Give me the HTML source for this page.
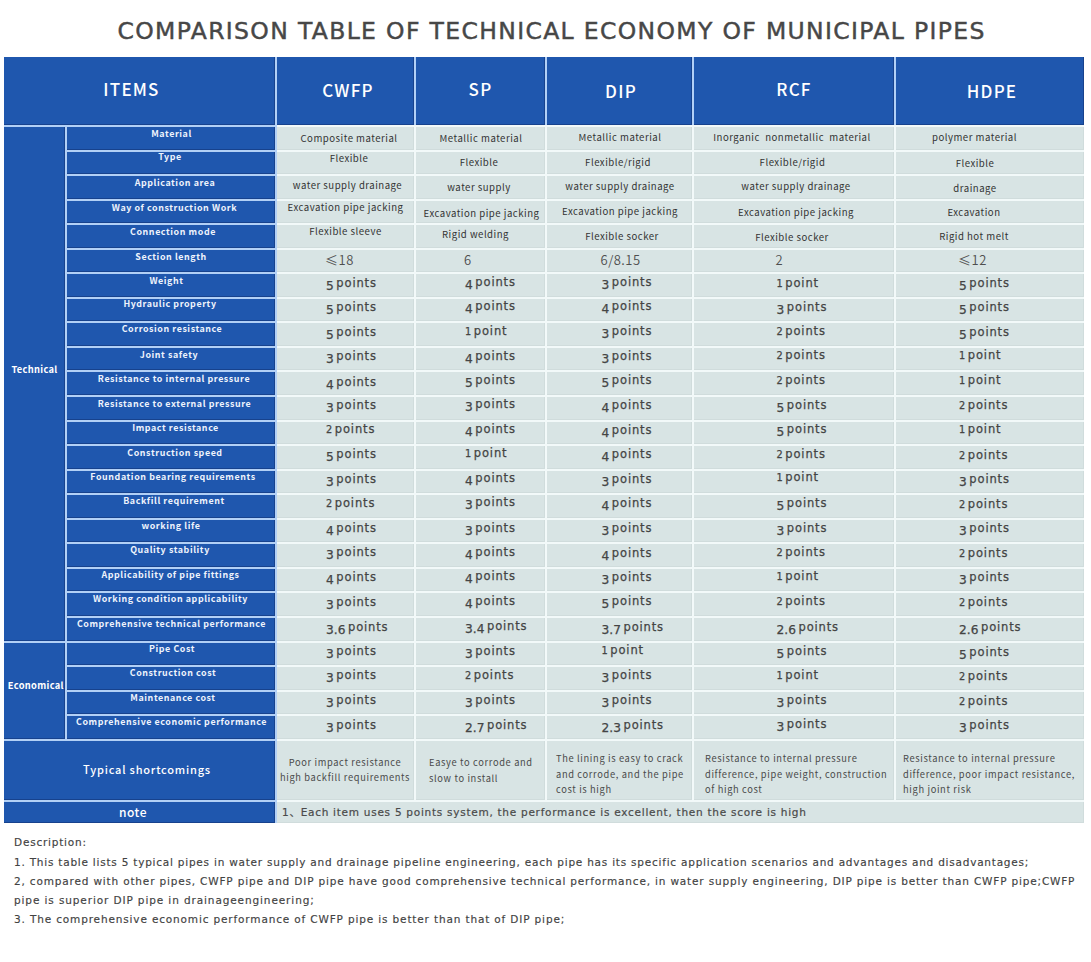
<!DOCTYPE html>
<html><head><meta charset="utf-8"><title>Comparison table of technical economy of municipal pipes</title>
<style>
html,body{margin:0;padding:0;background:#fff;}
body{width:1091px;height:962px;position:relative;overflow:hidden;}
.b{position:absolute;}
.bl{background:#1f57ae;box-shadow:inset -1px -1px 0 rgba(8,30,80,0.35);}
.gr{background:#d8e4e4;box-shadow:inset -1px -1px 0 rgba(0,20,20,0.035);}
.t{position:absolute;white-space:pre;font-family:'Noto Sans CJK SC','Liberation Sans',sans-serif;}
.title{font-family:'DejaVu Sans','Liberation Sans',sans-serif;font-size:23.5px;font-weight:400;color:#474747;letter-spacing:1.34px;line-height:30px;-webkit-text-stroke:0.45px #474747;}
.hd{font-size:17px;font-weight:500;color:#fff;letter-spacing:1.2px;text-align:center;line-height:22px;}
.grp{font-size:9.3px;font-weight:700;color:#fff;letter-spacing:0.32px;text-align:center;line-height:15px;}
.lab{font-size:8.9px;font-weight:700;color:#eef3fc;letter-spacing:0.58px;text-align:center;line-height:14px;}
.dat{font-size:9.6px;font-weight:400;color:#333;letter-spacing:0.5px;text-align:center;line-height:14px;}
.pts{font-family:'DejaVu Sans','Noto Sans CJK SC',sans-serif;font-size:11.5px;color:#444;letter-spacing:0.85px;-webkit-text-stroke:0.25px #444;line-height:16px;}
.pts span{display:inline-block;letter-spacing:0;}
.dx{font-size:0.85em;}
.dd{font-size:1.06em;transform:translateY(0.25em);}
.du{font-size:1em;}
.dp{transform:translateY(0.2em);}
.c{text-align:center;}
.gap{width:2.6px;}
.sec{font-size:13px;font-weight:350;letter-spacing:0.5px;-webkit-text-stroke:0;font-family:'Noto Sans CJK SC',sans-serif;color:#4e4e4e;}
.sc{font-size:11px;font-weight:500;color:#fff;letter-spacing:0.8px;text-align:center;line-height:18px;}
.sct{font-size:9.3px;color:#4a4a4a;letter-spacing:0.65px;line-height:14px;}
.note{font-family:'DejaVu Sans','Noto Sans CJK SC',sans-serif;font-size:10.5px;color:#4a4a4a;letter-spacing:0.73px;line-height:18px;-webkit-text-stroke:0.2px #4a4a4a;}
.desc{font-family:'DejaVu Sans','Noto Sans CJK SC',sans-serif;font-size:10.5px;color:#424242;line-height:18px;-webkit-text-stroke:0.15px #424242;}
</style></head>
<body>
<div class="b" style="left:4px;top:57px;width:273px;height:766px;background:#b2d0f6"></div>
<div class="b" style="left:277px;top:57px;width:807px;height:70px;background:#b2d0f6"></div>
<div class="b" style="left:277px;top:125px;width:807px;height:698px;background:#f2f9f9"></div>
<div class="b bl" style="left:4px;top:57px;width:271px;height:68px"></div>
<div class="b bl" style="left:277px;top:57px;width:137px;height:68px"></div>
<div class="b bl" style="left:416px;top:57px;width:129px;height:68px"></div>
<div class="b bl" style="left:547px;top:57px;width:145px;height:68px"></div>
<div class="b bl" style="left:694px;top:57px;width:200px;height:68px"></div>
<div class="b bl" style="left:896px;top:57px;width:188px;height:68px"></div>
<div class="b bl" style="left:4px;top:127px;width:61px;height:514px"></div>
<div class="b bl" style="left:4px;top:643px;width:61px;height:96px"></div>
<div class="b bl" style="left:67px;top:127px;width:208px;height:23px"></div>
<div class="b gr" style="left:277px;top:127px;width:137px;height:23px"></div>
<div class="b gr" style="left:416px;top:127px;width:129px;height:23px"></div>
<div class="b gr" style="left:547px;top:127px;width:145px;height:23px"></div>
<div class="b gr" style="left:694px;top:127px;width:200px;height:23px"></div>
<div class="b gr" style="left:896px;top:127px;width:188px;height:23px"></div>
<div class="b bl" style="left:67px;top:152px;width:208px;height:22px"></div>
<div class="b gr" style="left:277px;top:152px;width:137px;height:22px"></div>
<div class="b gr" style="left:416px;top:152px;width:129px;height:22px"></div>
<div class="b gr" style="left:547px;top:152px;width:145px;height:22px"></div>
<div class="b gr" style="left:694px;top:152px;width:200px;height:22px"></div>
<div class="b gr" style="left:896px;top:152px;width:188px;height:22px"></div>
<div class="b bl" style="left:67px;top:176px;width:208px;height:23px"></div>
<div class="b gr" style="left:277px;top:176px;width:137px;height:23px"></div>
<div class="b gr" style="left:416px;top:176px;width:129px;height:23px"></div>
<div class="b gr" style="left:547px;top:176px;width:145px;height:23px"></div>
<div class="b gr" style="left:694px;top:176px;width:200px;height:23px"></div>
<div class="b gr" style="left:896px;top:176px;width:188px;height:23px"></div>
<div class="b bl" style="left:67px;top:201px;width:208px;height:22px"></div>
<div class="b gr" style="left:277px;top:201px;width:137px;height:22px"></div>
<div class="b gr" style="left:416px;top:201px;width:129px;height:22px"></div>
<div class="b gr" style="left:547px;top:201px;width:145px;height:22px"></div>
<div class="b gr" style="left:694px;top:201px;width:200px;height:22px"></div>
<div class="b gr" style="left:896px;top:201px;width:188px;height:22px"></div>
<div class="b bl" style="left:67px;top:225px;width:208px;height:23px"></div>
<div class="b gr" style="left:277px;top:225px;width:137px;height:23px"></div>
<div class="b gr" style="left:416px;top:225px;width:129px;height:23px"></div>
<div class="b gr" style="left:547px;top:225px;width:145px;height:23px"></div>
<div class="b gr" style="left:694px;top:225px;width:200px;height:23px"></div>
<div class="b gr" style="left:896px;top:225px;width:188px;height:23px"></div>
<div class="b bl" style="left:67px;top:250px;width:208px;height:22px"></div>
<div class="b gr" style="left:277px;top:250px;width:137px;height:22px"></div>
<div class="b gr" style="left:416px;top:250px;width:129px;height:22px"></div>
<div class="b gr" style="left:547px;top:250px;width:145px;height:22px"></div>
<div class="b gr" style="left:694px;top:250px;width:200px;height:22px"></div>
<div class="b gr" style="left:896px;top:250px;width:188px;height:22px"></div>
<div class="b bl" style="left:67px;top:274px;width:208px;height:23px"></div>
<div class="b gr" style="left:277px;top:274px;width:137px;height:23px"></div>
<div class="b gr" style="left:416px;top:274px;width:129px;height:23px"></div>
<div class="b gr" style="left:547px;top:274px;width:145px;height:23px"></div>
<div class="b gr" style="left:694px;top:274px;width:200px;height:23px"></div>
<div class="b gr" style="left:896px;top:274px;width:188px;height:23px"></div>
<div class="b bl" style="left:67px;top:299px;width:208px;height:22px"></div>
<div class="b gr" style="left:277px;top:299px;width:137px;height:22px"></div>
<div class="b gr" style="left:416px;top:299px;width:129px;height:22px"></div>
<div class="b gr" style="left:547px;top:299px;width:145px;height:22px"></div>
<div class="b gr" style="left:694px;top:299px;width:200px;height:22px"></div>
<div class="b gr" style="left:896px;top:299px;width:188px;height:22px"></div>
<div class="b bl" style="left:67px;top:323px;width:208px;height:23px"></div>
<div class="b gr" style="left:277px;top:323px;width:137px;height:23px"></div>
<div class="b gr" style="left:416px;top:323px;width:129px;height:23px"></div>
<div class="b gr" style="left:547px;top:323px;width:145px;height:23px"></div>
<div class="b gr" style="left:694px;top:323px;width:200px;height:23px"></div>
<div class="b gr" style="left:896px;top:323px;width:188px;height:23px"></div>
<div class="b bl" style="left:67px;top:348px;width:208px;height:22px"></div>
<div class="b gr" style="left:277px;top:348px;width:137px;height:22px"></div>
<div class="b gr" style="left:416px;top:348px;width:129px;height:22px"></div>
<div class="b gr" style="left:547px;top:348px;width:145px;height:22px"></div>
<div class="b gr" style="left:694px;top:348px;width:200px;height:22px"></div>
<div class="b gr" style="left:896px;top:348px;width:188px;height:22px"></div>
<div class="b bl" style="left:67px;top:372px;width:208px;height:23px"></div>
<div class="b gr" style="left:277px;top:372px;width:137px;height:23px"></div>
<div class="b gr" style="left:416px;top:372px;width:129px;height:23px"></div>
<div class="b gr" style="left:547px;top:372px;width:145px;height:23px"></div>
<div class="b gr" style="left:694px;top:372px;width:200px;height:23px"></div>
<div class="b gr" style="left:896px;top:372px;width:188px;height:23px"></div>
<div class="b bl" style="left:67px;top:397px;width:208px;height:23px"></div>
<div class="b gr" style="left:277px;top:397px;width:137px;height:23px"></div>
<div class="b gr" style="left:416px;top:397px;width:129px;height:23px"></div>
<div class="b gr" style="left:547px;top:397px;width:145px;height:23px"></div>
<div class="b gr" style="left:694px;top:397px;width:200px;height:23px"></div>
<div class="b gr" style="left:896px;top:397px;width:188px;height:23px"></div>
<div class="b bl" style="left:67px;top:422px;width:208px;height:22px"></div>
<div class="b gr" style="left:277px;top:422px;width:137px;height:22px"></div>
<div class="b gr" style="left:416px;top:422px;width:129px;height:22px"></div>
<div class="b gr" style="left:547px;top:422px;width:145px;height:22px"></div>
<div class="b gr" style="left:694px;top:422px;width:200px;height:22px"></div>
<div class="b gr" style="left:896px;top:422px;width:188px;height:22px"></div>
<div class="b bl" style="left:67px;top:446px;width:208px;height:23px"></div>
<div class="b gr" style="left:277px;top:446px;width:137px;height:23px"></div>
<div class="b gr" style="left:416px;top:446px;width:129px;height:23px"></div>
<div class="b gr" style="left:547px;top:446px;width:145px;height:23px"></div>
<div class="b gr" style="left:694px;top:446px;width:200px;height:23px"></div>
<div class="b gr" style="left:896px;top:446px;width:188px;height:23px"></div>
<div class="b bl" style="left:67px;top:471px;width:208px;height:22px"></div>
<div class="b gr" style="left:277px;top:471px;width:137px;height:22px"></div>
<div class="b gr" style="left:416px;top:471px;width:129px;height:22px"></div>
<div class="b gr" style="left:547px;top:471px;width:145px;height:22px"></div>
<div class="b gr" style="left:694px;top:471px;width:200px;height:22px"></div>
<div class="b gr" style="left:896px;top:471px;width:188px;height:22px"></div>
<div class="b bl" style="left:67px;top:495px;width:208px;height:23px"></div>
<div class="b gr" style="left:277px;top:495px;width:137px;height:23px"></div>
<div class="b gr" style="left:416px;top:495px;width:129px;height:23px"></div>
<div class="b gr" style="left:547px;top:495px;width:145px;height:23px"></div>
<div class="b gr" style="left:694px;top:495px;width:200px;height:23px"></div>
<div class="b gr" style="left:896px;top:495px;width:188px;height:23px"></div>
<div class="b bl" style="left:67px;top:520px;width:208px;height:22px"></div>
<div class="b gr" style="left:277px;top:520px;width:137px;height:22px"></div>
<div class="b gr" style="left:416px;top:520px;width:129px;height:22px"></div>
<div class="b gr" style="left:547px;top:520px;width:145px;height:22px"></div>
<div class="b gr" style="left:694px;top:520px;width:200px;height:22px"></div>
<div class="b gr" style="left:896px;top:520px;width:188px;height:22px"></div>
<div class="b bl" style="left:67px;top:544px;width:208px;height:23px"></div>
<div class="b gr" style="left:277px;top:544px;width:137px;height:23px"></div>
<div class="b gr" style="left:416px;top:544px;width:129px;height:23px"></div>
<div class="b gr" style="left:547px;top:544px;width:145px;height:23px"></div>
<div class="b gr" style="left:694px;top:544px;width:200px;height:23px"></div>
<div class="b gr" style="left:896px;top:544px;width:188px;height:23px"></div>
<div class="b bl" style="left:67px;top:569px;width:208px;height:22px"></div>
<div class="b gr" style="left:277px;top:569px;width:137px;height:22px"></div>
<div class="b gr" style="left:416px;top:569px;width:129px;height:22px"></div>
<div class="b gr" style="left:547px;top:569px;width:145px;height:22px"></div>
<div class="b gr" style="left:694px;top:569px;width:200px;height:22px"></div>
<div class="b gr" style="left:896px;top:569px;width:188px;height:22px"></div>
<div class="b bl" style="left:67px;top:593px;width:208px;height:23px"></div>
<div class="b gr" style="left:277px;top:593px;width:137px;height:23px"></div>
<div class="b gr" style="left:416px;top:593px;width:129px;height:23px"></div>
<div class="b gr" style="left:547px;top:593px;width:145px;height:23px"></div>
<div class="b gr" style="left:694px;top:593px;width:200px;height:23px"></div>
<div class="b gr" style="left:896px;top:593px;width:188px;height:23px"></div>
<div class="b bl" style="left:67px;top:618px;width:208px;height:23px"></div>
<div class="b gr" style="left:277px;top:618px;width:137px;height:23px"></div>
<div class="b gr" style="left:416px;top:618px;width:129px;height:23px"></div>
<div class="b gr" style="left:547px;top:618px;width:145px;height:23px"></div>
<div class="b gr" style="left:694px;top:618px;width:200px;height:23px"></div>
<div class="b gr" style="left:896px;top:618px;width:188px;height:23px"></div>
<div class="b bl" style="left:67px;top:643px;width:208px;height:22px"></div>
<div class="b gr" style="left:277px;top:643px;width:137px;height:22px"></div>
<div class="b gr" style="left:416px;top:643px;width:129px;height:22px"></div>
<div class="b gr" style="left:547px;top:643px;width:145px;height:22px"></div>
<div class="b gr" style="left:694px;top:643px;width:200px;height:22px"></div>
<div class="b gr" style="left:896px;top:643px;width:188px;height:22px"></div>
<div class="b bl" style="left:67px;top:667px;width:208px;height:23px"></div>
<div class="b gr" style="left:277px;top:667px;width:137px;height:23px"></div>
<div class="b gr" style="left:416px;top:667px;width:129px;height:23px"></div>
<div class="b gr" style="left:547px;top:667px;width:145px;height:23px"></div>
<div class="b gr" style="left:694px;top:667px;width:200px;height:23px"></div>
<div class="b gr" style="left:896px;top:667px;width:188px;height:23px"></div>
<div class="b bl" style="left:67px;top:692px;width:208px;height:22px"></div>
<div class="b gr" style="left:277px;top:692px;width:137px;height:22px"></div>
<div class="b gr" style="left:416px;top:692px;width:129px;height:22px"></div>
<div class="b gr" style="left:547px;top:692px;width:145px;height:22px"></div>
<div class="b gr" style="left:694px;top:692px;width:200px;height:22px"></div>
<div class="b gr" style="left:896px;top:692px;width:188px;height:22px"></div>
<div class="b bl" style="left:67px;top:716px;width:208px;height:23px"></div>
<div class="b gr" style="left:277px;top:716px;width:137px;height:23px"></div>
<div class="b gr" style="left:416px;top:716px;width:129px;height:23px"></div>
<div class="b gr" style="left:547px;top:716px;width:145px;height:23px"></div>
<div class="b gr" style="left:694px;top:716px;width:200px;height:23px"></div>
<div class="b gr" style="left:896px;top:716px;width:188px;height:23px"></div>
<div class="b bl" style="left:4px;top:741px;width:271px;height:59px"></div>
<div class="b gr" style="left:277px;top:741px;width:137px;height:59px"></div>
<div class="b gr" style="left:416px;top:741px;width:129px;height:59px"></div>
<div class="b gr" style="left:547px;top:741px;width:145px;height:59px"></div>
<div class="b gr" style="left:694px;top:741px;width:200px;height:59px"></div>
<div class="b gr" style="left:896px;top:741px;width:188px;height:59px"></div>
<div class="b bl" style="left:4px;top:802px;width:271px;height:21px"></div>
<div class="b gr" style="left:277px;top:802px;width:807px;height:21px"></div>
<div class="t title" style="left:117.5px;top:16.3px">COMPARISON TABLE OF TECHNICAL ECONOMY OF MUNICIPAL PIPES</div>
<div class="t hd" style="left:56.5px;top:78.0px;width:150px">ITEMS</div>
<div class="t hd" style="left:273.0px;top:79.3px;width:150px">CWFP</div>
<div class="t hd" style="left:405.5px;top:78.0px;width:150px">SP</div>
<div class="t hd" style="left:546.0px;top:79.5px;width:150px">DIP</div>
<div class="t hd" style="left:719.0px;top:78.0px;width:150px">RCF</div>
<div class="t hd" style="left:917.0px;top:79.5px;width:150px">HDPE</div>
<div class="t grp" style="left:4.5px;top:362.0px;width:60px">Technical</div>
<div class="t grp" style="left:5.8px;top:678.0px;width:60px">Economical</div>
<div class="t lab" style="left:67.5px;top:126.7px;width:208px">Material</div>
<div class="t lab" style="left:66.0px;top:149.7px;width:208px">Type</div>
<div class="t lab" style="left:71.0px;top:176.2px;width:208px">Application area</div>
<div class="t lab" style="left:70.5px;top:201.2px;width:208px">Way of construction Work</div>
<div class="t lab" style="left:69.0px;top:224.7px;width:208px">Connection mode</div>
<div class="t lab" style="left:67.0px;top:249.7px;width:208px">Section length</div>
<div class="t lab" style="left:62.5px;top:273.7px;width:208px">Weight</div>
<div class="t lab" style="left:66.0px;top:297.2px;width:208px">Hydraulic property</div>
<div class="t lab" style="left:68.0px;top:322.2px;width:208px">Corrosion resistance</div>
<div class="t lab" style="left:65.0px;top:347.7px;width:208px">Joint safety</div>
<div class="t lab" style="left:70.0px;top:371.7px;width:208px">Resistance to internal pressure</div>
<div class="t lab" style="left:70.5px;top:396.7px;width:208px">Resistance to external pressure</div>
<div class="t lab" style="left:71.5px;top:421.2px;width:208px">Impact resistance</div>
<div class="t lab" style="left:71.0px;top:445.7px;width:208px">Construction speed</div>
<div class="t lab" style="left:69.0px;top:469.7px;width:208px">Foundation bearing requirements</div>
<div class="t lab" style="left:70.0px;top:493.7px;width:208px">Backfill requirement</div>
<div class="t lab" style="left:67.0px;top:518.7px;width:208px">working life</div>
<div class="t lab" style="left:66.0px;top:542.7px;width:208px">Quality stability</div>
<div class="t lab" style="left:66.5px;top:567.7px;width:208px">Applicability of pipe fittings</div>
<div class="t lab" style="left:66.5px;top:591.7px;width:208px">Working condition applicability</div>
<div class="t lab" style="left:67.5px;top:616.7px;width:208px">Comprehensive technical performance</div>
<div class="t lab" style="left:68.0px;top:641.7px;width:208px">Pipe Cost</div>
<div class="t lab" style="left:69.0px;top:666.2px;width:208px">Construction cost</div>
<div class="t lab" style="left:69.0px;top:690.7px;width:208px">Maintenance cost</div>
<div class="t lab" style="left:67.5px;top:714.7px;width:208px">Comprehensive economic performance</div>
<div class="t dat" style="left:249.0px;top:131.0px;width:200px">Composite material</div>
<div class="t dat" style="left:381.0px;top:131.0px;width:200px">Metallic material</div>
<div class="t dat" style="left:520.0px;top:130.0px;width:200px">Metallic material</div>
<div class="t dat" style="left:692.0px;top:130.0px;width:200px">Inorganic  nonmetallic  material</div>
<div class="t dat" style="left:874.5px;top:130.0px;width:200px">polymer material</div>
<div class="t dat" style="left:249.0px;top:150.5px;width:200px">Flexible</div>
<div class="t dat" style="left:379.0px;top:154.5px;width:200px">Flexible</div>
<div class="t dat" style="left:518.0px;top:154.5px;width:200px">Flexible/rigid</div>
<div class="t dat" style="left:692.5px;top:154.5px;width:200px">Flexible/rigid</div>
<div class="t dat" style="left:875.0px;top:155.5px;width:200px">Flexible</div>
<div class="t dat" style="left:247.5px;top:177.5px;width:200px">water supply drainage</div>
<div class="t dat" style="left:379.0px;top:179.5px;width:200px">water supply</div>
<div class="t dat" style="left:520.0px;top:178.5px;width:200px">water supply drainage</div>
<div class="t dat" style="left:696.0px;top:178.5px;width:200px">water supply drainage</div>
<div class="t dat" style="left:875.0px;top:180.5px;width:200px">drainage</div>
<div class="t dat" style="left:245.5px;top:200.0px;width:200px">Excavation pipe jacking</div>
<div class="t dat" style="left:381.5px;top:206.0px;width:200px">Excavation pipe jacking</div>
<div class="t dat" style="left:520.0px;top:203.5px;width:200px">Excavation pipe jacking</div>
<div class="t dat" style="left:696.0px;top:204.5px;width:200px">Excavation pipe jacking</div>
<div class="t dat" style="left:874.0px;top:204.5px;width:200px">Excavation</div>
<div class="t dat" style="left:245.5px;top:223.5px;width:200px">Flexible sleeve</div>
<div class="t dat" style="left:375.5px;top:226.5px;width:200px">Rigid welding</div>
<div class="t dat" style="left:522.0px;top:228.5px;width:200px">Flexible socker</div>
<div class="t dat" style="left:692.0px;top:229.5px;width:200px">Flexible socker</div>
<div class="t dat" style="left:874.0px;top:228.5px;width:200px">Rigid hot melt</div>
<div class="t pts sec" style="left:325px;top:252.0px">≤18</div>
<div class="t pts sec" style="left:464px;top:252.0px">6</div>
<div class="t pts sec" style="left:600.5px;top:251.5px">6/8.15</div>
<div class="t pts sec" style="left:775.5px;top:251.5px">2</div>
<div class="t pts sec" style="left:958px;top:251.5px">≤12</div>
<div class="t pts" style="left:326px;top:275.0px"><span class="dd">5</span><span class="gap"></span>points</div>
<div class="t pts" style="left:465px;top:273.5px"><span class="dd">4</span><span class="gap"></span>points</div>
<div class="t pts" style="left:601.5px;top:273.5px"><span class="dd">3</span><span class="gap"></span>points</div>
<div class="t pts" style="left:776.5px;top:274.5px"><span class="dx">1</span><span class="gap"></span>point</div>
<div class="t pts" style="left:959px;top:274.5px"><span class="dd">5</span><span class="gap"></span>points</div>
<div class="t pts" style="left:326px;top:298.5px"><span class="dd">5</span><span class="gap"></span>points</div>
<div class="t pts" style="left:465px;top:297.5px"><span class="dd">4</span><span class="gap"></span>points</div>
<div class="t pts" style="left:601.5px;top:297.5px"><span class="dd">4</span><span class="gap"></span>points</div>
<div class="t pts" style="left:776.5px;top:298.5px"><span class="dd">3</span><span class="gap"></span>points</div>
<div class="t pts" style="left:959px;top:298.5px"><span class="dd">5</span><span class="gap"></span>points</div>
<div class="t pts" style="left:326px;top:323.5px"><span class="dd">5</span><span class="gap"></span>points</div>
<div class="t pts" style="left:465px;top:322.5px"><span class="dx">1</span><span class="gap"></span>point</div>
<div class="t pts" style="left:601.5px;top:322.5px"><span class="dd">3</span><span class="gap"></span>points</div>
<div class="t pts" style="left:776.5px;top:322.5px"><span class="dx">2</span><span class="gap"></span>points</div>
<div class="t pts" style="left:959px;top:323.5px"><span class="dd">5</span><span class="gap"></span>points</div>
<div class="t pts" style="left:326px;top:347.5px"><span class="dd">3</span><span class="gap"></span>points</div>
<div class="t pts" style="left:465px;top:347.5px"><span class="dd">4</span><span class="gap"></span>points</div>
<div class="t pts" style="left:601.5px;top:347.5px"><span class="dd">3</span><span class="gap"></span>points</div>
<div class="t pts" style="left:776.5px;top:346.5px"><span class="dx">2</span><span class="gap"></span>points</div>
<div class="t pts" style="left:959px;top:346.5px"><span class="dx">1</span><span class="gap"></span>point</div>
<div class="t pts" style="left:326px;top:373.5px"><span class="dd">4</span><span class="gap"></span>points</div>
<div class="t pts" style="left:465px;top:371.5px"><span class="dd">5</span><span class="gap"></span>points</div>
<div class="t pts" style="left:601.5px;top:371.5px"><span class="dd">5</span><span class="gap"></span>points</div>
<div class="t pts" style="left:776.5px;top:371.5px"><span class="dx">2</span><span class="gap"></span>points</div>
<div class="t pts" style="left:959px;top:371.5px"><span class="dx">1</span><span class="gap"></span>point</div>
<div class="t pts" style="left:326px;top:397.0px"><span class="dd">3</span><span class="gap"></span>points</div>
<div class="t pts" style="left:465px;top:395.5px"><span class="dd">3</span><span class="gap"></span>points</div>
<div class="t pts" style="left:601.5px;top:396.5px"><span class="dd">4</span><span class="gap"></span>points</div>
<div class="t pts" style="left:776.5px;top:396.5px"><span class="dd">5</span><span class="gap"></span>points</div>
<div class="t pts" style="left:959px;top:396.5px"><span class="dx">2</span><span class="gap"></span>points</div>
<div class="t pts" style="left:326px;top:420.5px"><span class="dx">2</span><span class="gap"></span>points</div>
<div class="t pts" style="left:465px;top:420.5px"><span class="dd">4</span><span class="gap"></span>points</div>
<div class="t pts" style="left:601.5px;top:421.5px"><span class="dd">4</span><span class="gap"></span>points</div>
<div class="t pts" style="left:776.5px;top:420.5px"><span class="dd">5</span><span class="gap"></span>points</div>
<div class="t pts" style="left:959px;top:420.5px"><span class="dx">1</span><span class="gap"></span>point</div>
<div class="t pts" style="left:326px;top:445.5px"><span class="dd">5</span><span class="gap"></span>points</div>
<div class="t pts" style="left:465px;top:444.5px"><span class="dx">1</span><span class="gap"></span>point</div>
<div class="t pts" style="left:601.5px;top:445.5px"><span class="dd">4</span><span class="gap"></span>points</div>
<div class="t pts" style="left:776.5px;top:445.5px"><span class="dx">2</span><span class="gap"></span>points</div>
<div class="t pts" style="left:959px;top:446.5px"><span class="dx">2</span><span class="gap"></span>points</div>
<div class="t pts" style="left:326px;top:470.5px"><span class="dd">3</span><span class="gap"></span>points</div>
<div class="t pts" style="left:465px;top:469.5px"><span class="dd">4</span><span class="gap"></span>points</div>
<div class="t pts" style="left:601.5px;top:470.5px"><span class="dd">3</span><span class="gap"></span>points</div>
<div class="t pts" style="left:776.5px;top:468.5px"><span class="dx">1</span><span class="gap"></span>point</div>
<div class="t pts" style="left:959px;top:470.5px"><span class="dd">3</span><span class="gap"></span>points</div>
<div class="t pts" style="left:326px;top:495.0px"><span class="dx">2</span><span class="gap"></span>points</div>
<div class="t pts" style="left:465px;top:494.0px"><span class="dd">3</span><span class="gap"></span>points</div>
<div class="t pts" style="left:601.5px;top:494.5px"><span class="dd">4</span><span class="gap"></span>points</div>
<div class="t pts" style="left:776.5px;top:494.5px"><span class="dd">5</span><span class="gap"></span>points</div>
<div class="t pts" style="left:959px;top:495.5px"><span class="dx">2</span><span class="gap"></span>points</div>
<div class="t pts" style="left:326px;top:519.5px"><span class="dd">4</span><span class="gap"></span>points</div>
<div class="t pts" style="left:465px;top:519.5px"><span class="dd">3</span><span class="gap"></span>points</div>
<div class="t pts" style="left:601.5px;top:519.5px"><span class="dd">3</span><span class="gap"></span>points</div>
<div class="t pts" style="left:776.5px;top:519.5px"><span class="dd">3</span><span class="gap"></span>points</div>
<div class="t pts" style="left:959px;top:519.5px"><span class="dd">3</span><span class="gap"></span>points</div>
<div class="t pts" style="left:326px;top:544.0px"><span class="dd">3</span><span class="gap"></span>points</div>
<div class="t pts" style="left:465px;top:544.0px"><span class="dd">4</span><span class="gap"></span>points</div>
<div class="t pts" style="left:601.5px;top:544.5px"><span class="dd">4</span><span class="gap"></span>points</div>
<div class="t pts" style="left:776.5px;top:543.5px"><span class="dx">2</span><span class="gap"></span>points</div>
<div class="t pts" style="left:959px;top:544.5px"><span class="dx">2</span><span class="gap"></span>points</div>
<div class="t pts" style="left:326px;top:568.5px"><span class="dd">4</span><span class="gap"></span>points</div>
<div class="t pts" style="left:465px;top:567.5px"><span class="dd">4</span><span class="gap"></span>points</div>
<div class="t pts" style="left:601.5px;top:568.5px"><span class="dd">3</span><span class="gap"></span>points</div>
<div class="t pts" style="left:776.5px;top:567.5px"><span class="dx">1</span><span class="gap"></span>point</div>
<div class="t pts" style="left:959px;top:568.5px"><span class="dd">3</span><span class="gap"></span>points</div>
<div class="t pts" style="left:326px;top:593.5px"><span class="dd">3</span><span class="gap"></span>points</div>
<div class="t pts" style="left:465px;top:592.5px"><span class="dd">4</span><span class="gap"></span>points</div>
<div class="t pts" style="left:601.5px;top:592.5px"><span class="dd">5</span><span class="gap"></span>points</div>
<div class="t pts" style="left:776.5px;top:592.5px"><span class="dx">2</span><span class="gap"></span>points</div>
<div class="t pts" style="left:959px;top:593.5px"><span class="dx">2</span><span class="gap"></span>points</div>
<div class="t pts" style="left:326px;top:618.5px"><span class="dd">3</span><span class="dd">.</span><span class="dd">6</span><span class="gap"></span>points</div>
<div class="t pts" style="left:465px;top:617.5px"><span class="dd">3</span><span class="dd">.</span><span class="dd">4</span><span class="gap"></span>points</div>
<div class="t pts" style="left:601.5px;top:618.5px"><span class="dd">3</span><span class="dd">.</span><span class="dd">7</span><span class="gap"></span>points</div>
<div class="t pts" style="left:776.5px;top:618.5px"><span class="dd">2</span><span class="dd">.</span><span class="dd">6</span><span class="gap"></span>points</div>
<div class="t pts" style="left:959px;top:618.5px"><span class="dd">2</span><span class="dd">.</span><span class="dd">6</span><span class="gap"></span>points</div>
<div class="t pts" style="left:326px;top:642.5px"><span class="dd">3</span><span class="gap"></span>points</div>
<div class="t pts" style="left:465px;top:642.5px"><span class="dd">3</span><span class="gap"></span>points</div>
<div class="t pts" style="left:601.5px;top:641.5px"><span class="dx">1</span><span class="gap"></span>point</div>
<div class="t pts" style="left:776.5px;top:642.5px"><span class="dd">5</span><span class="gap"></span>points</div>
<div class="t pts" style="left:959px;top:643.5px"><span class="dd">5</span><span class="gap"></span>points</div>
<div class="t pts" style="left:326px;top:666.5px"><span class="dd">3</span><span class="gap"></span>points</div>
<div class="t pts" style="left:465px;top:666.5px"><span class="dx">2</span><span class="gap"></span>points</div>
<div class="t pts" style="left:601.5px;top:666.5px"><span class="dd">3</span><span class="gap"></span>points</div>
<div class="t pts" style="left:776.5px;top:666.5px"><span class="dx">1</span><span class="gap"></span>point</div>
<div class="t pts" style="left:959px;top:667.5px"><span class="dx">2</span><span class="gap"></span>points</div>
<div class="t pts" style="left:326px;top:691.5px"><span class="dd">3</span><span class="gap"></span>points</div>
<div class="t pts" style="left:465px;top:691.5px"><span class="dd">3</span><span class="gap"></span>points</div>
<div class="t pts" style="left:601.5px;top:691.5px"><span class="dd">3</span><span class="gap"></span>points</div>
<div class="t pts" style="left:776.5px;top:691.5px"><span class="dd">3</span><span class="gap"></span>points</div>
<div class="t pts" style="left:959px;top:692.5px"><span class="dx">2</span><span class="gap"></span>points</div>
<div class="t pts" style="left:326px;top:716.5px"><span class="dd">3</span><span class="gap"></span>points</div>
<div class="t pts" style="left:465px;top:716.5px"><span class="dd">2</span><span class="dd">.</span><span class="dd">7</span><span class="gap"></span>points</div>
<div class="t pts" style="left:601.5px;top:716.5px"><span class="dd">2</span><span class="dd">.</span><span class="dd">3</span><span class="gap"></span>points</div>
<div class="t pts" style="left:776.5px;top:715.5px"><span class="dd">3</span><span class="gap"></span>points</div>
<div class="t pts" style="left:959px;top:716.5px"><span class="dd">3</span><span class="gap"></span>points</div>
<div class="t sc" style="left:47.0px;top:759.5px;width:200px">Typical shortcomings</div>
<div class="t sct c" style="left:265.0px;top:754.5px;width:160px">Poor impact resistance</div>
<div class="t sct c" style="left:265.0px;top:770.0px;width:160px">high backfill requirements</div>
<div class="t sct" style="left:429px;top:754.5px">Easye to corrode and</div>
<div class="t sct" style="left:429px;top:770.5px">slow to install</div>
<div class="t sct" style="left:556px;top:751.0px">The lining is easy to crack</div>
<div class="t sct" style="left:556px;top:766.5px">and corrode, and the pipe</div>
<div class="t sct" style="left:556px;top:781.5px">cost is high</div>
<div class="t sct" style="left:705px;top:751.0px">Resistance to internal pressure</div>
<div class="t sct" style="left:705px;top:766.5px">difference, pipe weight, construction</div>
<div class="t sct" style="left:705px;top:781.5px">of high cost</div>
<div class="t sct" style="left:903px;top:751.0px">Resistance to internal pressure</div>
<div class="t sct" style="left:903px;top:766.5px">difference, poor impact resistance,</div>
<div class="t sct" style="left:903px;top:781.5px">high joint risk</div>
<div class="t sc" style="left:83px;top:802.5px;width:100px;font-size:12px;letter-spacing:0.5px">note</div>
<div class="t note" style="left:282px;top:803.0px">1、Each item uses 5 points system, the performance is excellent, then the score is high</div>
<div class="t desc" style="left:14px;top:833px;letter-spacing:0.79px">Description:</div>
<div class="t desc" style="left:14px;top:853px;letter-spacing:0.77px">1. This table lists 5 typical pipes in water supply and drainage pipeline engineering, each pipe has its specific application scenarios and advantages and disadvantages;</div>
<div class="t desc" style="left:14px;top:872px;letter-spacing:0.83px">2, compared with other pipes, CWFP pipe and DIP pipe have good comprehensive technical performance, in water supply engineering, DIP pipe is better than CWFP pipe;CWFP</div>
<div class="t desc" style="left:14px;top:891px;letter-spacing:0.89px">pipe is superior DIP pipe in drainageengineering;</div>
<div class="t desc" style="left:14px;top:910px;letter-spacing:0.85px">3. The comprehensive economic performance of CWFP pipe is better than that of DIP pipe;</div>
</body></html>
